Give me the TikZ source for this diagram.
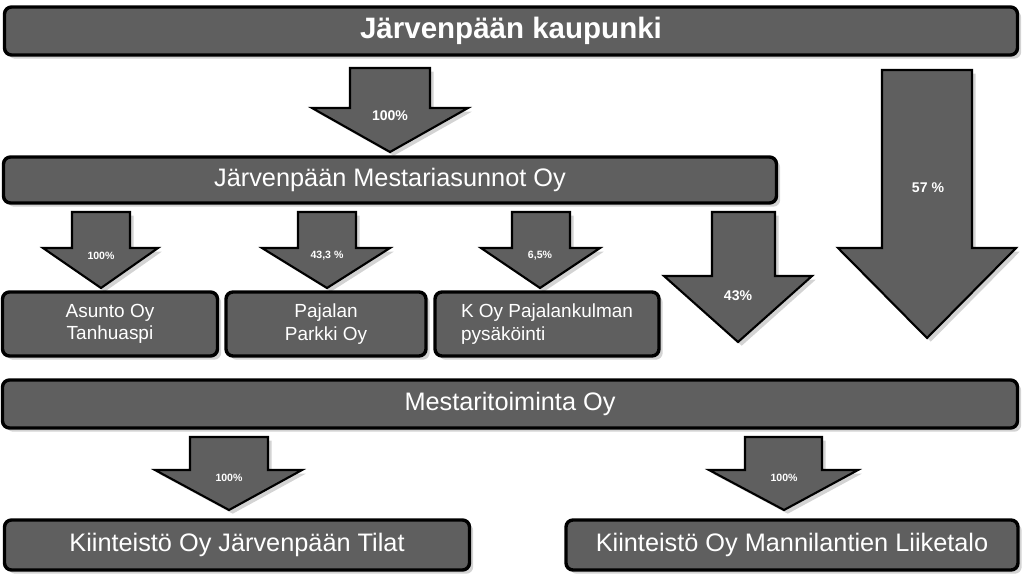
\documentclass[tikz,border=0pt]{standalone}
\usepackage{fontspec}
\setmainfont{Liberation Sans}
\usetikzlibrary{positioning,shadows}

\begin{document}
\begin{tikzpicture}[x=0.25mm,y=-0.25mm,
    box/.style={draw=black, line width=2.4pt, fill=boxgray, rounded corners=5pt, drop shadow={opacity=0.35}, text=white, inner sep=0pt},
    arr/.style={draw=black, line width=1.5pt, fill=boxgray, drop shadow={opacity=0.35}},
    pct/.style={text=white, font=\bfseries\fontsize{10}{11}\selectfont},
    spct/.style={text=white, font=\bfseries\fontsize{7.5}{8}\selectfont}]
    \definecolor{boxgray}{HTML}{5F5F5F}
    \useasboundingbox (0,0) rectangle (1024,580);

    % arrows
    \draw[arr] (350,68) -- (430,68) -- (430,108) -- (468,108) -- (390,152) -- (312,108) -- (350,108) -- cycle;
    \node[pct] (p1) at (390,116) {100\%};
    \draw[arr] (882,70) -- (972,70) -- (972,248) -- (1016,248) -- (927,338) -- (838,248) -- (882,248) -- cycle;
    \node[pct] (p2) at (928,188) {57 \%};
    \draw[arr] (72,212) -- (130,212) -- (130,248) -- (158,248) -- (101,288) -- (43,248) -- (72,248) -- cycle;
    \node[spct] (p3) at (101,256) {100\%};
    \draw[arr] (298,212) -- (356,212) -- (356,248) -- (390,248) -- (327,288) -- (262,248) -- (298,248) -- cycle;
    \node[spct] (p4) at (327,256) {43,3 \%};
    \draw[arr] (512,212) -- (570,212) -- (570,248) -- (600,248) -- (540,288) -- (481,248) -- (512,248) -- cycle;
    \node[spct] (p5) at (540,256) {6,5\%};
    \draw[arr] (712,212) -- (775,212) -- (775,276) -- (812,276) -- (738,342) -- (664,276) -- (712,276) -- cycle;
    \node[pct] (p6) at (738,296) {43\%};
    \draw[arr] (190,437) -- (268,437) -- (268,470) -- (302,470) -- (229,510) -- (155,470) -- (190,470) -- cycle;
    \node[spct] (p7) at (229,478) {100\%};
    \draw[arr] (745,437) -- (822,437) -- (822,470) -- (858,470) -- (784,510) -- (709,470) -- (745,470) -- cycle;
    \node[spct] (p8) at (784,478) {100\%};

    % boxes
    \node[box, minimum width=1013*0.25mm, minimum height=48*0.25mm, font=\bfseries\fontsize{21}{24}\selectfont] (city) at (511,31) {Järvenpään kaupunki};
    \node[box, minimum width=773*0.25mm, minimum height=46*0.25mm, font=\fontsize{18}{21}\selectfont] (mest) at (390,180) {Järvenpään Mestariasunnot Oy};
    \node[box, minimum width=215*0.25mm, minimum height=64*0.25mm, align=center, font=\fontsize{13.5}{16}\selectfont] (tanh) at (110,324) {Asunto Oy\\Tanhuaspi};
    \node[box, minimum width=200*0.25mm, minimum height=64*0.25mm, align=center, font=\fontsize{13.5}{16}\selectfont] (park) at (326,324) {Pajalan\\Parkki Oy};
    \node[box, minimum width=224*0.25mm, minimum height=64*0.25mm, align=left, font=\fontsize{13.5}{16}\selectfont] (pys) at (547,324) {K Oy Pajalankulman\\pysäköinti};
    \node[box, minimum width=1015*0.25mm, minimum height=48*0.25mm, font=\fontsize{18}{21}\selectfont] (toim) at (510,404) {Mestaritoiminta Oy};
    \node[box, minimum width=465*0.25mm, minimum height=50*0.25mm, font=\fontsize{18}{21}\selectfont] (tilat) at (237,545) {Kiinteistö Oy Järvenpään Tilat};
    \node[box, minimum width=452*0.25mm, minimum height=50*0.25mm, font=\fontsize{18}{21}\selectfont] (liike) at (792,545) {Kiinteistö Oy Mannilantien Liiketalo};
\end{tikzpicture}
\end{document}
